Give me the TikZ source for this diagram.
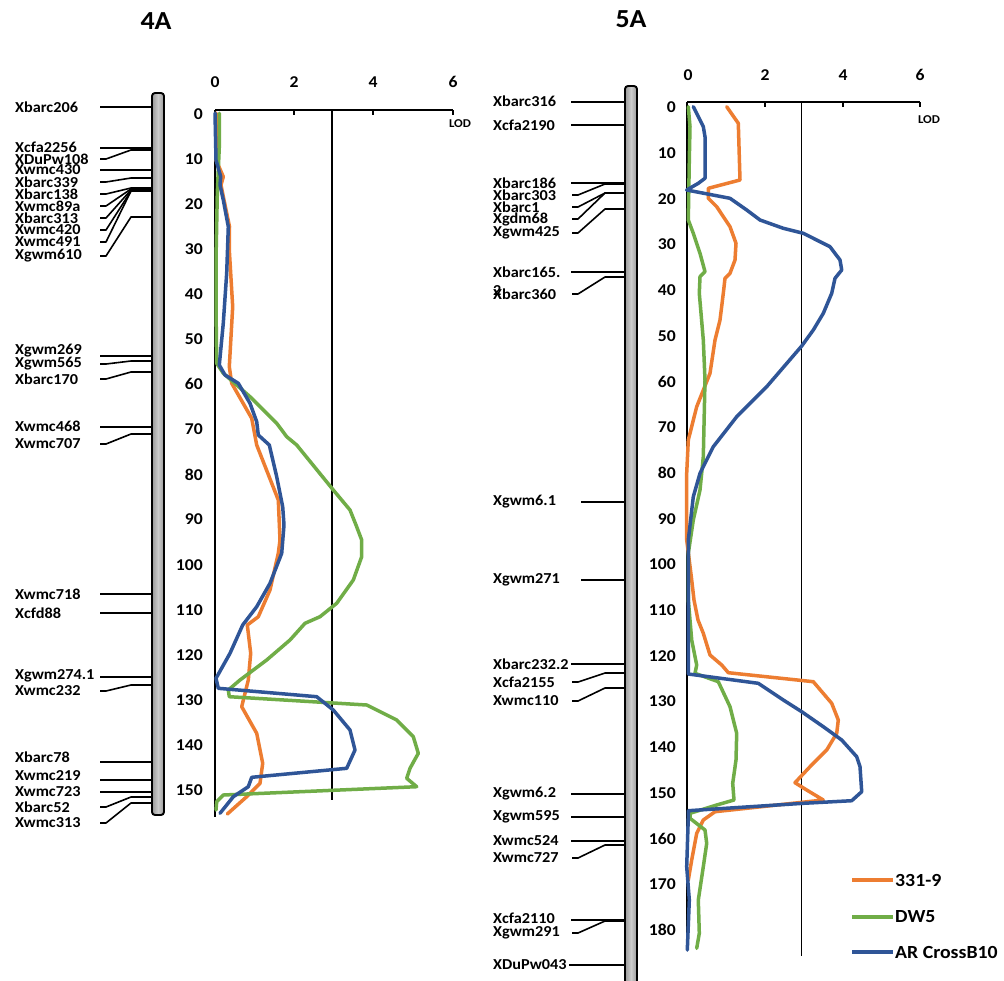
\documentclass[tikz,border=0pt]{standalone}
\usepackage{fontspec}
\setmainfont{Carlito}[FakeStretch=1.07]
\definecolor{cor}{RGB}{237,125,49}
\definecolor{cgr}{RGB}{112,173,71}
\definecolor{cbl}{RGB}{47,85,151}
\begin{document}
\begin{tikzpicture}[x=1pt,y=-1pt,
  mk/.style={font=\bfseries\fontsize{15.2}{15.2}\selectfont, anchor=west, inner sep=0pt},
  lg/.style={font=\bfseries\fontsize{18.5}{18.5}\selectfont, anchor=west, inner sep=0pt},
  tk/.style={font=\bfseries\fontsize{16.5}{16.5}\selectfont, anchor=east, inner sep=0pt},
  tt/.style={font=\bfseries\fontsize{16.5}{16.5}\selectfont, inner sep=0pt},
  ttl/.style={font=\bfseries\fontsize{26}{26}\selectfont, inner sep=0pt},
  lodl/.style={font=\bfseries\fontsize{12}{12}\selectfont, inner sep=0pt},
  mline/.style={line width=1.6pt},
  axl/.style={line width=1.8pt},
  curve/.style={line width=3.5pt, line join=round, line cap=round},
  chrom/.style={draw=black, line width=1.9pt, rounded corners=3pt, left color=gray!80, right color=gray!80, middle color=gray!40}]
\useasboundingbox (0,0) rectangle (1004,980);
\clip (0,0) rectangle (1004,980);
\fill[white] (0,0) rectangle (1004,980);

% titles
\node[ttl] (t4a) at (156,21) {4A};
\node[ttl] (t5a) at (631,19) {5A};

% ===== 4A =====
\foreach \t/\ly/\my in {Xbarc206/107/107, Xcfa2256/147/148, Xgwm269/351/356, Xwmc468/426/427, Xwmc718/594/594, Xcfd88/613/613, Xgwm274.1/676/677, Xbarc78/757/762, Xwmc219/776/780, Xwmc723/792/792}{
  \node[mk] (a\t) at (15,\ly) {\t};
  \draw[mline] (100,\my) -- (152,\my);
}
\foreach \t/\ly/\my in {XDuPw108/159/150, Xwmc430/170/170, Xbarc339/182/178, Xbarc138/194/188, Xwmc89a/206/189, Xbarc313/218/190, Xwmc420/230/191, Xwmc491/242/191, Xgwm610/256/217, Xgwm565/364/361, Xbarc170/379/372, Xwmc707/444/434, Xwmc232/691/685, Xbarc52/807/797, Xwmc313/823/803}{
  \node[mk] (a\t) at (15,\ly) {\t};
  \draw[mline, line join=round] (100,\ly) -- (106,\ly) -- (131,\my) -- (152,\my);
}
\path[chrom] (152,93) rectangle (164,815);

% axes
\draw[axl] (215,110) -- (453,110);
\foreach \x in {294,373,453} \draw[axl] (\x,110) -- (\x,115);
\draw[axl] (215,110) -- (215,817);
\draw[line width=1.5pt] (332,110) -- (332,800);
\foreach \v/\x in {0/215,2/294,4/373,6/453} \node[tt] (ax\v) at (\x,82) {\v};
\node[lodl] (lod4) at (460,124) {LOD};
\foreach \c in {0,10,...,150} \node[tk] (ya\c) at (203,114+4.507*\c) {\c};

% curves 4A
\draw[curve, cor] (216,113) -- (216,160) -- (223.3,176.7) -- (221,185) -- (224,200) -- (229.5,226.7) -- (229.3,250) -- (232.7,306.7) -- (229.3,366.7) -- (231.7,383.3) -- (251.7,418.3) -- (256.7,445) -- (278.3,500) -- (280,540) -- (278.3,553.3) -- (270,590) -- (258.3,616.7) -- (247.3,625) -- (250.7,653.3) -- (248.3,680) -- (241.7,706.7) -- (256.7,733.3) -- (262.7,763.3) -- (260,783.3) -- (246.7,796.7) -- (227.3,814);
\draw[curve, cgr] (219.3,113.3) -- (219.3,146.7) -- (217.3,193.3) -- (216,260) -- (216,306.7) -- (216.7,363.3) -- (223.3,373.3) -- (250,396.7) -- (276.7,423.3) -- (286.7,436.7) -- (296.7,445) -- (333.3,490) -- (350,510) -- (356,525) -- (361.7,540) -- (361.7,556.7) -- (353.3,580) -- (336.7,603.3) -- (320,616.7) -- (305,623.3) -- (290,640) -- (266.7,660) -- (240,680) -- (228.3,690) -- (229.3,696.7) -- (366.7,705) -- (396.7,720) -- (413.3,736.7) -- (418.3,753.3) -- (410,768.3) -- (406.7,778.3) -- (416.7,786.7) -- (223.3,795) -- (216.7,801.7) -- (216,810);
\draw[curve, cbl] (215,113) -- (216,160) -- (220.7,176.7) -- (220,185) -- (223.3,200) -- (228.3,226.7) -- (227.5,250) -- (226.7,273) -- (223.3,323) -- (219.3,365) -- (225,375) -- (238.3,383.3) -- (250,403.3) -- (256.7,421.7) -- (258.3,435) -- (269.3,445) -- (276.7,476.7) -- (282.7,506.7) -- (284,525) -- (281.7,553.3) -- (270,583.3) -- (256.7,606.7) -- (242.7,625) -- (230,653.3) -- (216,678.3) -- (218.3,688.3) -- (316.7,696.7) -- (333.3,710) -- (350,730) -- (355,750) -- (346.7,768.3) -- (251.7,777.3) -- (248.3,786.7) -- (233.3,796.7) -- (220,813.3);

% ===== 5A =====
\foreach \t/\ly/\my/\xs in {Xbarc316/101/102/571, Xcfa2190/125/125/571, Xbarc186/183/183/571, Xbarc165./272/272/571, Xgwm6.1/502/502/581, Xgwm271/580/580/581, Xbarc232.2/664/664/571, Xgwm6.2/794/794/571, Xgwm595/817/817/571, Xwmc524/841/841/571, Xcfa2110/918/920/571, XDuPw043/965/965/569}{
  \node[mk] (b\t) at (493,\ly) {\t};
  \draw[mline] (\xs,\my) -- (625,\my);
}
\foreach \t/\ly/\my in {Xbarc303/195/184, Xbarc1/207/193, Xgdm68/219/193, Xgwm425/233/209, Xbarc360/294/277, Xcfa2155/682/673, Xwmc110/701/688, Xwmc727/858/845, Xgwm291/933/921}{
  \node[mk] (b\t) at (493,\ly) {\t};
  \draw[mline, line join=round] (572,\ly) -- (578,\ly) -- (605,\my) -- (625,\my);
}
\node[mk] (btwo) at (493,291) {2};
\path[chrom] (625,86) rectangle (637,995);

% axes 5A
\draw[axl] (687.3,102) -- (920,102);
\foreach \x in {765,843,920} \draw[axl] (\x,102) -- (\x,107);
\draw[axl] (687.3,102) -- (687.3,950);
\draw[line width=1.5pt] (801.7,102) -- (801.7,956);
\foreach \v/\x in {0/688,2/765,4/843,6/920} \node[tt] (bx\v) at (\x,75) {\v};
\node[lodl] (lod5) at (929,120) {LOD};
\foreach \c in {0,10,...,180} \node[tk] (yb\c) at (676,107.3+4.571*\c) {\c};

% curves 5A
\draw[curve, cor] (726.7,106.7) -- (738.3,123.3) -- (740,180) -- (708.3,188.3) -- (708.3,198.3) -- (716.7,206.7) -- (730,226.7) -- (736,243.3) -- (735,260) -- (730,273.3) -- (725,278.3) -- (723.3,293.3) -- (720,320) -- (715,340) -- (710,373.3) -- (696.7,406.7) -- (688.3,440) -- (686.7,473.3) -- (686.7,540) -- (691.7,580) -- (694,600) -- (698,620) -- (703.3,633.3) -- (710,655) -- (721.7,665) -- (728.3,672.7) -- (813.3,681.7) -- (831.7,703.3) -- (838.3,720) -- (836.7,733.3) -- (826.7,750) -- (810,766.7) -- (795,782.7) -- (806.7,790) -- (823.3,800) -- (715,811.7) -- (703.3,820) -- (696.7,833.3) -- (691.7,860) -- (688.3,880);
\draw[curve, cgr] (688.3,106.7) -- (690,126.7) -- (689.3,160) -- (688.3,220) -- (693.3,233.3) -- (700,253.3) -- (705,271.7) -- (700,276.7) -- (699.3,293.3) -- (703.3,340) -- (705,380) -- (703.3,456.7) -- (700,490) -- (693.3,520) -- (688.3,553.3) -- (688.3,600) -- (691.7,640) -- (696.7,665) -- (695,673.3) -- (718.3,681.7) -- (730,706.7) -- (736.7,733.3) -- (736,760) -- (732.7,783.3) -- (734,800) -- (716.7,805) -- (690,813.3) -- (690,818.3) -- (705,830) -- (706.7,843.3) -- (703.3,866.7) -- (698.3,900) -- (699.3,933.3) -- (696.7,948.3);
\draw[curve, cbl] (693.3,106.7) -- (703.3,126.7) -- (705,136.7) -- (705,178.3) -- (698.3,183.3) -- (686.7,190) -- (730,198.3) -- (746.7,210) -- (760,220) -- (783.3,228.3) -- (803.3,233.3) -- (830,246.7) -- (840,260) -- (841.7,270) -- (835,278.3) -- (831.7,293.3) -- (823.3,313.3) -- (813.3,330) -- (801.7,346) -- (766.7,386.7) -- (736.7,416.7) -- (713.3,446.7) -- (700,473.3) -- (693.3,496.7) -- (688.3,540) -- (688.3,674) -- (758.3,683.3) -- (783.3,700) -- (801.7,711.7) -- (823.3,726.7) -- (841.7,740) -- (856.7,756.7) -- (860,766.7) -- (861.7,791.7) -- (851.7,800.7) -- (803.3,803.3) -- (688.3,810.7) -- (688.3,816.7) -- (686.7,866.7) -- (689.3,900) -- (687.3,950);

% legend
\coordinate (l1a) at (852,880); \coordinate (l1b) at (893,880);
\coordinate (l2a) at (852,917); \coordinate (l2b) at (893,917);
\coordinate (l3a) at (852,952); \coordinate (l3b) at (893,952);
\draw[curve, cor, line cap=butt] (l1a) -- (l1b);
\draw[curve, cgr, line cap=butt] (l2a) -- (l2b);
\draw[curve, cbl, line cap=butt] (l3a) -- (l3b);
\node[lg] (lg1) at (895,880) {331-9};
\node[lg] (lg2) at (895,917) {DW5};
\node[lg] (lg3) at (895,952) {AR CrossB10};
\end{tikzpicture}
\end{document}
